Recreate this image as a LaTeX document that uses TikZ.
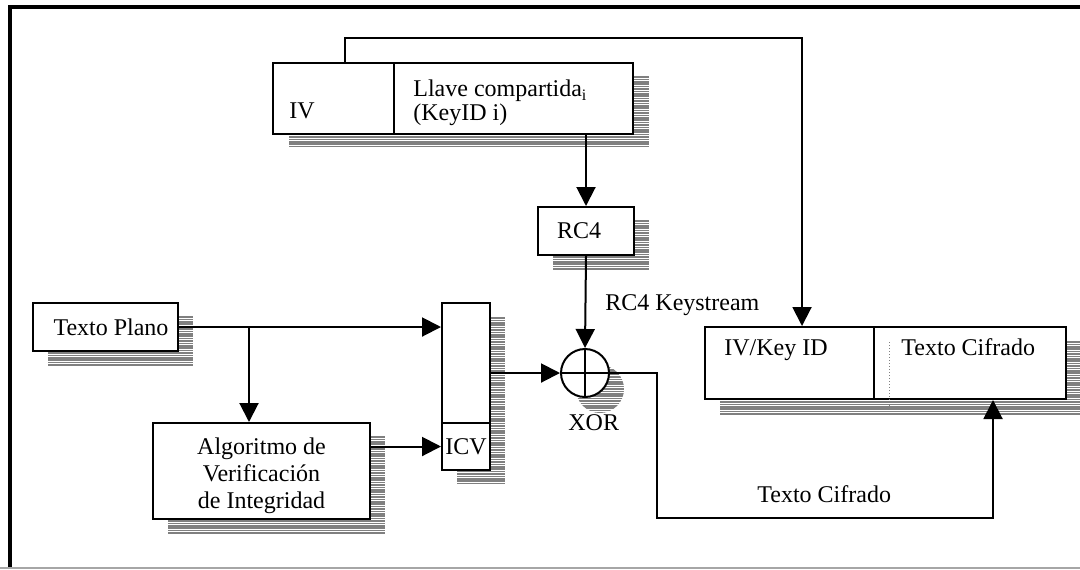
\documentclass[tikz,border=0pt]{standalone}
\usepackage{fontspec}
\setmainfont{Liberation Serif}
\usetikzlibrary{
    arrows.meta,
    positioning
}
\tikzstyle{cell} = [
    draw,
    fill=white,
    line width=1pt,
    inner sep=0pt,
    anchor=north west
]
\tikzstyle{arrow} = [
    -{Triangle[length=9.5pt,width=9.5pt]},
    line width=1pt
]
\tikzstyle{wire} = [
    line width=1pt
]
\tikzstyle{txt} = [
    anchor=base west,
    inner sep=0pt
]
\tikzstyle{shadowline} = [
    draw=gray,
    line width=0.8pt
]
% hatched drop shadow: x1 y1 x2 y2
\newcommand{\hatchbox}[4]{%
    \pgfmathtruncatemacro{\nlines}{(#4-#2)/2.4}
    \foreach \k in {0,...,\nlines}
        \draw[shadowline] (#1,{#2+\k*2.4}) -- (#3,{#2+\k*2.4});
}

\begin{document}
\begin{tikzpicture}[x=0.5pt, y=-0.5pt, font=\fontsize{12}{13.5}\selectfont]
    \useasboundingbox (0,0) rectangle (1080,569);

    % Canvas frame
    \draw[line width=2pt] (9.5,569) -- (9.5,7) -- (1080,7);
    \draw[gray!70, line width=0.6pt] (0,568) -- (1080,568);

    % Shadows
    \hatchbox{289}{77}{649}{148}
    \hatchbox{553}{221}{649}{269}
    \hatchbox{48}{317}{193}{365}
    \hatchbox{457}{318}{505}{485}
    \hatchbox{168}{437}{385}{533}
    \hatchbox{720}{342}{1080}{414}
    \begin{scope}
        \clip (600,389) circle (12pt);
        \hatchbox{576}{365}{624}{413}
    \end{scope}

    % Shared key block
    \node[cell, minimum width=60.5pt, minimum height=35.5pt] (ivcell) at (272,62) {};
    \node[cell, minimum width=119.5pt, minimum height=35.5pt] (keycell) at (393,62) {};
    \node[txt] (ivtext) at (289,118) {IV};
    \node[txt, anchor=north west, align=left, font=\fontsize{12}{12}\selectfont] (keytext) at (413,79.5)
        {Llave compartida\textsubscript{i}\\(KeyID i)};

    % RC4
    \node[cell, minimum width=48pt, minimum height=24pt] (rc4) at (537,206) {RC4\hspace*{7pt}};
    \node[txt] (kslabel) at (605,310) {RC4 Keystream};

    % Plain text and integrity check
    \node[cell, minimum width=72.5pt, minimum height=24pt] (plano) at (32,302) {\hspace*{5.5pt}Texto Plano};
    \node[cell, minimum width=108.5pt, minimum height=48pt, align=center] (algo) at (152,422)
        {\rule{0pt}{13.3pt}Algoritmo de\\Verificación\\de Integridad};
    \node[cell, minimum width=24pt, minimum height=60pt] (msgcell) at (441,302) {};
    \node[cell, minimum width=24pt, minimum height=23.5pt] (icv) at (441,422) {ICV};

    % XOR
    \node[draw, fill=white, circle, line width=1pt, minimum size=24pt, inner sep=0pt] (xor) at (585,373) {};
    \draw[wire] (xor.north) -- (xor.south) (xor.west) -- (xor.east);
    \node[txt] (xorlabel) at (568,430) {XOR};

    % Output frame
    \node[cell, minimum width=84.5pt, minimum height=36pt] (idcell) at (704,326) {};
    \node[cell, minimum width=96pt, minimum height=36pt] (ctcell) at (873,326) {};
    \draw[gray, densely dotted, line width=0.5pt] (889,342) -- (889,414);
    \node[txt] (idtext) at (724,355) {IV/Key ID};
    \node[txt] (cttext) at (901,355) {Texto Cifrado};

    % Connections
    \coordinate (ivtap) at (345,62);
    \coordinate (idtap) at (802,326);
    \coordinate (branch) at (249,326);
    \draw[arrow] (ivtap) -- (ivtap |- 0,38) -| (idtap);
    \draw[arrow] (rc4.north |- keycell.south) -- (rc4.north);
    \draw[arrow] (rc4.south) -- (xor.north);
    \draw[arrow] (plano.east) -- (plano.east -| msgcell.west);
    \draw[arrow] (branch) -- (branch |- algo.north);
    \draw[arrow] (icv.west -| algo.east) -- (icv.west);
    \draw[arrow] (xor.west -| msgcell.east) -- (xor.west);
    \draw[arrow] (xor.east) -- (657,373) |- (993,518) -- (ctcell.south -| 993,0);
    \node[txt] (cflabel) at (757,502) {Texto Cifrado};
\end{tikzpicture}
\end{document}
